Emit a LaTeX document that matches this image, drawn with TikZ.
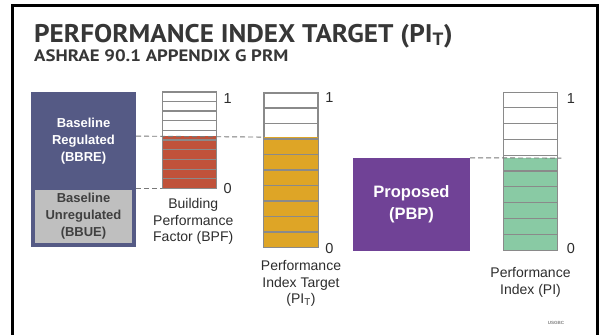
\documentclass[tikz,border=0pt]{standalone}
\usepackage{fontspec}
\setmainfont{Liberation Sans}
\newfontfamily\headfont[FakeStretch=1.065]{PT Sans}
\newfontfamily\subheadfont[FakeStretch=1.14]{PT Sans}
\usepackage{xcolor}
\definecolor{text-dark}{RGB}{45,45,45}
\definecolor{head-dark}{RGB}{55,55,55}
\definecolor{base-blue}{RGB}{85,90,133}
\definecolor{unreg-gray}{RGB}{191,191,191}
\definecolor{unreg-text}{RGB}{64,64,64}
\definecolor{bpf-red}{RGB}{192,82,58}
\definecolor{pit-gold}{RGB}{222,165,38}
\definecolor{pbp-purple}{RGB}{112,66,150}
\definecolor{pi-green}{RGB}{137,202,164}
\definecolor{cell-gray}{RGB}{138,138,138}
\definecolor{guide-gray}{RGB}{120,120,120}
\usepackage{tikz}
\usetikzlibrary{calc}

\begin{document}
\begin{tikzpicture}[
    x=1pt, y=-1pt,
    every node/.style={inner sep=0pt},
    indexbar/.style={draw=cell-gray, line width=1pt, fill=white, minimum width=53.5pt},
    barfill/.style={minimum width=53.5pt, anchor=south},
    cellline/.style={cell-gray, line width=1.2pt},
    guide/.style={guide-gray, line width=0.9pt, dash pattern=on 5pt off 3pt},
    scale label/.style={font=\fontsize{14.5}{16}\selectfont, text=text-dark, anchor=west},
    bar label/.style={font=\fontsize{14}{16.5}\selectfont, text=text-dark, align=center},
    block label/.style={font=\bfseries\fontsize{13}{17}\selectfont, align=center}
]
\useasboundingbox (0,0) rectangle (606,335);

% Slide frame, open at the bottom
\draw[line width=3.5pt] (12.5,340) -- (12.5,5.5) -- (597.5,5.5) -- (597.5,340);

% Title and subtitle
\node[font=\headfont\bfseries\fontsize{25.5}{28}\selectfont, text=head-dark, anchor=base west]
    (title) at (34,42) {PERFORMANCE INDEX TARGET (PI\textsubscript{T})};
\node[font=\subheadfont\bfseries\fontsize{16.5}{18}\selectfont, text=head-dark, anchor=base west]
    (subtitle) at (34,61.5) {ASHRAE 90.1 APPENDIX G PRM};

% Baseline block: regulated + unregulated
\node[fill=base-blue, minimum width=105pt, minimum height=155pt] (base) at (83.5,169.5) {};
\node[block label, text=white] (bbre) at (83.5,141) {Baseline\\Regulated\\(BBRE)};
\node[fill=unreg-gray, minimum width=97pt, minimum height=53pt, block label, text=unreg-text]
    (bbue) at (83.5,216.5) {Baseline\\Unregulated\\(BBUE)};

% Index bars
\node[indexbar, minimum height=96pt] (bpf) at (189.25,140) {};
\node[barfill, fill=bpf-red, minimum height=52pt] (bpf-fill) at (bpf.south) {};

\node[indexbar, minimum height=154pt] (pit) at (291,170) {};
\node[barfill, fill=pit-gold, minimum height=110pt] (pit-fill) at (pit.south) {};

\node[indexbar, minimum height=157pt] (pi) at (530.5,171) {};
\node[barfill, fill=pi-green, minimum height=91.5pt] (pi-fill) at (pi.south) {};

% Ten cells per bar
\foreach \barname in {bpf,pit,pi} {
    \foreach \k in {1,...,9}
        \draw[cellline] ($(\barname.north west)!\k/10!(\barname.south west)$)
            -- ($(\barname.north east)!\k/10!(\barname.south east)$);
    \draw[cell-gray, line width=1pt] (\barname.north west) rectangle (\barname.south east);
}

% Proposed building
\node[fill=pbp-purple, minimum width=117pt, minimum height=93pt, text=white,
    font=\bfseries\fontsize{16.5}{22}\selectfont, align=center]
    (pbp) at (411.5,204.5) {Proposed\\(PBP)};

% Scale marks
\node[scale label] (bpf-one) at ($(bpf.north east)+(7,7)$) {1};
\node[scale label] (bpf-zero) at ($(bpf.south east)+(7,0)$) {0};
\node[scale label] (pit-one) at ($(pit.north east)+(7,5)$) {1};
\node[scale label] (pit-zero) at ($(pit.south east)+(7,1)$) {0};
\node[scale label] (pi-one) at ($(pi.north east)+(9,6.5)$) {1};
\node[scale label] (pi-zero) at ($(pi.south east)+(9,-1)$) {0};

% Bar captions
\node[bar label] (bpf-label) at ($(bpf.south)+(4,33)$) {Building\\Performance\\Factor (BPF)};
\node[bar label] (pit-label) at ($(pit.south)+(10,36)$) {Performance\\Index Target\\(PI\textsubscript{T})};
\node[bar label] (pi-label) at ($(pi.south)+(0,32.5)$) {Performance\\Index (PI)};

% Dashed guides
\draw[guide] (base.east |- bpf-fill.north) -- (pit-fill.north west);
\draw[guide] (base.east |- bpf.south) -- (bpf.south west);
\draw[guide] (pbp.north east) -- ([xshift=4pt]pi-fill.north east);

\node[font=\bfseries\fontsize{4.5}{5}\selectfont, text=gray] (usgbc) at (556,323) {USGBC};

\end{tikzpicture}
\end{document}
